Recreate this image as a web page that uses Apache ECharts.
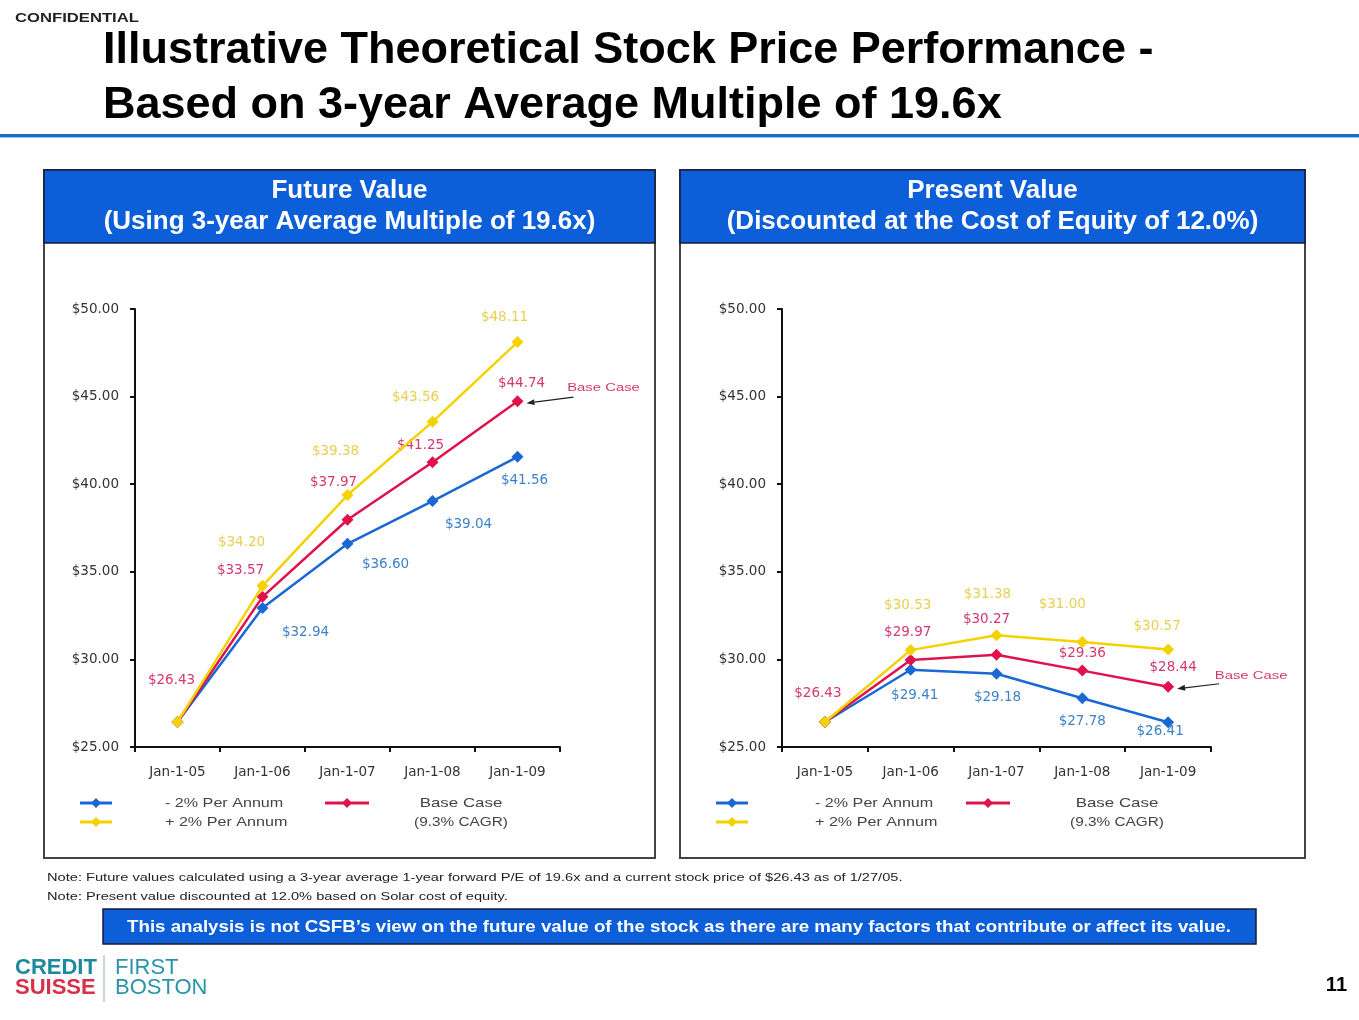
<!DOCTYPE html>
<html>
<head>
<meta charset="utf-8">
<script src="https://cdn.jsdelivr.net/npm/echarts@6/dist/echarts.min.js"></script>
<style>
html,body{margin:0;padding:0;background:#fff;}
#c{width:1359px;height:1020px;}
</style>
</head>
<body>
<div id="c"></div>
<script>
// ---- data ----
var categories = ['Jan-1-05', 'Jan-1-06', 'Jan-1-07', 'Jan-1-08', 'Jan-1-09'];
var yTicks = [25, 30, 35, 40, 45, 50];

var fvMinus2 = [26.43, 32.94, 36.60, 39.04, 41.56];
var fvBase   = [26.43, 33.57, 37.97, 41.25, 44.74];
var fvPlus2  = [26.43, 34.20, 39.38, 43.56, 48.11];

var pvMinus2 = [26.43, 29.41, 29.18, 27.78, 26.41];
var pvBase   = [26.43, 29.97, 30.27, 29.36, 28.44];
var pvPlus2  = [26.43, 30.53, 31.38, 31.00, 30.57];

var seriesNames = ['- 2% Per Annum', 'Base Case', '+ 2% Per Annum'];

// ---- label offsets (style) ----
var fvOff = {
  minus: [null, [43, 25], [38, 21], [36, 23], [7, 24]],
  base:  [[-6, -41], [-22, -26], [-14, -37], [-12, -17], [4, -18]],
  plus:  [null, [-21, -43], [-12, -44], [-17, -24], [-13, -25]]
};
var pvOff = {
  minus: [null, [4, 26], [1, 24], [0, 23], [-8, 9]],
  base:  [[-7, -28], [-3, -27], [-10, -35], [0, -17], [5, -19]],
  plus:  [null, [-3, -45], [-9, -41], [-20, -37], [-11, -23]]
};

var FONT = 'Liberation Sans, Arial, Helvetica, sans-serif';
var WFONT = 'DejaVu Sans, Liberation Sans, sans-serif';
var C_BLUE = '#1a68d4', C_RED = '#e0124c', C_YEL = '#f4d200';
var L_BLUE = '#3d82c9', L_RED = '#d4386c', L_YEL = '#e9cf52';
var HDR = '#0c5fd8';

function mkData(vals, offs, lblColor) {
  return vals.map(function (v, i) {
    var o = offs[i];
    return {
      value: v,
      label: o ? {
        show: true, position: 'inside', offset: o, color: lblColor,
        fontSize: 13.5, fontFamily: WFONT,
        formatter: function (p) { return '$' + p.value.toFixed(2); }
      } : { show: false }
    };
  });
}

function mkSeries(idx, vals, offs, color, lblColor, z) {
  return {
    type: 'line', name: '', xAxisIndex: idx, yAxisIndex: idx,
    data: mkData(vals, offs, lblColor),
    symbol: 'diamond', symbolSize: 12, showSymbol: true,
    lineStyle: { color: color, width: 2.5 },
    itemStyle: { color: color },
    z: z, animation: false, silent: true
  };
}

function mkX(idx) {
  return {
    type: 'category', gridIndex: idx, data: categories, boundaryGap: true,
    axisLine: { lineStyle: { color: '#111', width: 2 } },
    axisTick: { show: true, length: 5, lineStyle: { color: '#111', width: 2 } },
    axisLabel: { color: '#333', fontSize: 13.5, fontFamily: WFONT, margin: 18 }
  };
}
function mkY(idx) {
  return {
    type: 'value', gridIndex: idx, min: yTicks[0], max: yTicks[yTicks.length - 1], interval: 5,
    splitLine: { show: false },
    axisLine: { show: true, lineStyle: { color: '#111', width: 2 } },
    axisTick: { show: true, length: 5, lineStyle: { color: '#111', width: 2 } },
    axisLabel: { color: '#333', fontSize: 13.5, fontFamily: WFONT, margin: 16,
      formatter: function (v) { return '$' + v.toFixed(2); } }
  };
}

var graphics = [];
function txt(x, y, s, o) {
  o = o || {};
  graphics.push({ type: 'text', x: x, y: y, z: o.z || 10, silent: true, scaleX: o.sx || 1, style: {
    text: s, fill: o.fill || '#000', font: (o.weight || 'normal') + ' ' + (o.size || 13) + 'px ' + (o.font || FONT),
    textAlign: o.align || 'left', textVerticalAlign: 'middle' } });
}
function rect(x, y, w, h, fill, stroke, lw, z) {
  graphics.push({ type: 'rect', silent: true, z: z || 1, shape: { x: x, y: y, width: w, height: h },
    style: { fill: fill, stroke: stroke || null, lineWidth: lw || 0 } });
}
function line(x1, y1, x2, y2, color, w, z) {
  graphics.push({ type: 'line', silent: true, z: z || 5, shape: { x1: x1, y1: y1, x2: x2, y2: y2 },
    style: { stroke: color, lineWidth: w } });
}
function diamond(cx, cy, r, color) {
  graphics.push({ type: 'polygon', silent: true, z: 6, shape: { points: [[cx, cy - r], [cx + r, cy], [cx, cy + r], [cx - r, cy]] },
    style: { fill: color } });
}

// header
txt(15, 18, 'CONFIDENTIAL', { size: 13, weight: 'bold', fill: '#222', sx: 1.28 });
txt(103, 51, 'Illustrative Theoretical Stock Price Performance -', { size: 45, weight: 'bold' });
txt(103, 106, 'Based on 3-year Average Multiple of 19.6x', { size: 45, weight: 'bold' });
rect(0, 134, 1359, 3, '#1f6cc4');
rect(0, 137, 1359, 1, '#9ec3ea');

// panels
function panel(x, w, t1, t2) {
  rect(x, 170, w, 688, null, '#444', 2, 1);
  rect(x, 170, w, 73, HDR, '#1a1a3a', 1.5, 2);
  txt(x + w / 2, 191, t1, { size: 26, weight: 'bold', fill: '#fff', align: 'center' });
  txt(x + w / 2, 222, t2, { size: 26, weight: 'bold', fill: '#fff', align: 'center' });
}
panel(44, 611, 'Future Value', '(Using 3-year Average Multiple of 19.6x)');
panel(680, 625, 'Present Value', '(Discounted at the Cost of Equity of 12.0%)');

// legends
function legend(bx, tx, rx, cx) {
  line(bx, 803, bx + 32, 803, C_BLUE, 3); diamond(bx + 16, 803, 5, C_BLUE);
  line(bx, 822, bx + 32, 822, C_YEL, 3); diamond(bx + 16, 822, 5, C_YEL);
  txt(tx, 803, seriesNames[0], { size: 13, fill: '#444', sx: 1.24 });
  txt(tx, 822, seriesNames[2], { size: 13, fill: '#444', sx: 1.24 });
  line(rx, 803, rx + 44, 803, C_RED, 3); diamond(rx + 22, 803, 5, C_RED);
  txt(cx, 803, seriesNames[1], { size: 13, fill: '#444', align: 'center', sx: 1.3 });
  txt(cx, 823, '(9.3% CAGR)', { size: 12, fill: '#444', align: 'center', sx: 1.28 });
}
legend(80, 165, 325, 461);
legend(716, 815, 966, 1117);

// notes
txt(47, 878, 'Note: Future values calculated using a 3-year average 1-year forward P/E of 19.6x and a current stock price of $26.43 as of 1/27/05.', { size: 11, fill: '#222', sx: 1.33 });
txt(47, 897, 'Note: Present value discounted at 12.0% based on Solar cost of equity.', { size: 11, fill: '#222', sx: 1.33 });
rect(103, 909, 1153, 35, HDR, '#1a1a3a', 1.5, 2);
txt(679, 927, 'This analysis is not CSFB\u2019s view on the future value of the stock as there are many factors that contribute or affect its value.', { size: 17, weight: 'bold', fill: '#fff', align: 'center', sx: 1.1 });

// logo
txt(15, 968, 'CREDIT', { size: 22, weight: 'bold', fill: '#1c8a9a' });
txt(15, 988, 'SUISSE', { size: 22, weight: 'bold', fill: '#d8304a' });
line(104, 955, 104, 1002, '#9ab', 1);
txt(115, 968, 'FIRST', { size: 22, fill: '#2a94a8' });
txt(115, 988, 'BOSTON', { size: 22, fill: '#2a94a8' });
txt(1347, 985, '11', { size: 20, weight: 'bold', align: 'right' });

var chart = echarts.init(document.getElementById('c'), null, { renderer: 'canvas' });
var option = {
  animation: false,
  backgroundColor: '#fff',
  grid: [
    { left: 135, top: 309, width: 425, height: 438 },
    { left: 782, top: 309, width: 429, height: 438 }
  ],
  xAxis: [mkX(0), mkX(1)],
  yAxis: [mkY(0), mkY(1)],
  series: [
    mkSeries(0, fvMinus2, fvOff.minus, C_BLUE, L_BLUE, 3),
    mkSeries(0, fvBase, fvOff.base, C_RED, L_RED, 4),
    mkSeries(0, fvPlus2, fvOff.plus, C_YEL, L_YEL, 5),
    mkSeries(1, pvMinus2, pvOff.minus, C_BLUE, L_BLUE, 3),
    mkSeries(1, pvBase, pvOff.base, C_RED, L_RED, 4),
    mkSeries(1, pvPlus2, pvOff.plus, C_YEL, L_YEL, 5)
  ],
  graphic: graphics
};
chart.setOption(option);

// "Base Case" arrows pointing to the last base-case points
function arrowTo(gridIdx, vals, dx, dy, textDx, textDy) {
  var last = vals.length - 1;
  var p = chart.convertToPixel({ gridIndex: gridIdx }, [categories[last], vals[last]]);
  var tip = [p[0] + 9, p[1] + 2];
  var tail = [tip[0] + dx, tip[1] + dy];
  var ang = Math.atan2(tail[1] - tip[1], tail[0] - tip[0]);
  var L = 8, W = 3;
  var bx = tip[0] + Math.cos(ang) * L, by = tip[1] + Math.sin(ang) * L;
  var nx = -Math.sin(ang) * W, ny = Math.cos(ang) * W;
  graphics.push({ type: 'line', silent: true, z: 20, shape: { x1: tail[0], y1: tail[1], x2: bx, y2: by }, style: { stroke: '#222', lineWidth: 1.2 } });
  graphics.push({ type: 'polygon', silent: true, z: 20, shape: { points: [tip, [bx + nx, by + ny], [bx - nx, by - ny]] }, style: { fill: '#222' } });
  txt(tail[0] + textDx, tail[1] + textDy, 'Base Case', { size: 11, fill: L_RED, align: 'center', z: 20, sx: 1.35 });
}
arrowTo(0, fvBase, 47, -6, 30, -9);
arrowTo(1, pvBase, 42, -5, 32, -8);
chart.setOption({ graphic: graphics });
</script>
</body>
</html>
